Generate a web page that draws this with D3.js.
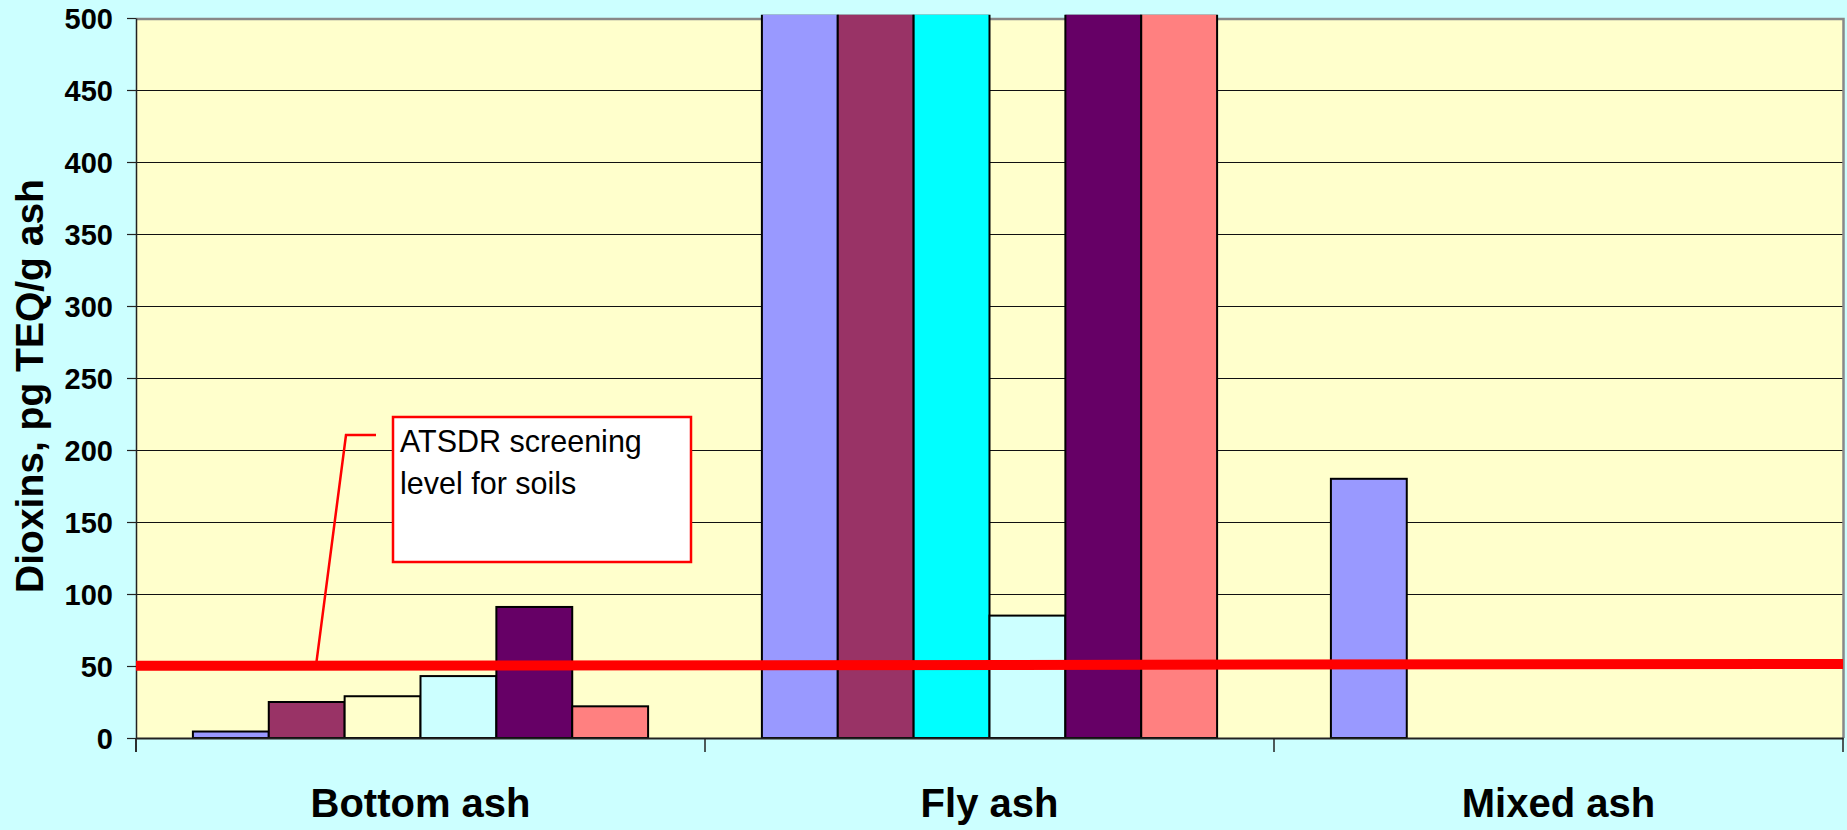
<!DOCTYPE html>
<html>
<head>
<meta charset="utf-8">
<script src="https://cdn.jsdelivr.net/npm/d3@7"></script>
<style>
  html, body { margin: 0; padding: 0; background: #CCFFFF; }
  svg { display: block; font-family: "Liberation Sans", Arial, sans-serif; }
</style>
</head>
<body>
<svg id="chart" width="1847" height="830"></svg>
<script>
// ---------------- data ----------------
const categories = ["Bottom ash", "Fly ash", "Mixed ash"];
const seriesIndex = [0, 1, 2, 3, 4, 5];
// values in pg TEQ/g ash; Fly ash bars run off the top of the 0–500 scale (visible top ≈ 503)
const bottomAsh = [4.5, 25, 29, 43, 91, 22];
const flyAsh    = [503, 503, 503, 85, 503, 503];
const mixedAsh  = [180, null, null, null, null, null];
const bottomAshColors = ["#9999FF", "#993366", "#FFFFCC", "#CCFFFF", "#660066", "#FF8080"];
const flyAshColors    = ["#9999FF", "#993366", "#00FFFF", "#CCFFFF", "#660066", "#FF8080"];
const mixedAshColors  = ["#9999FF", "#993366", "#FFFFCC", "#CCFFFF", "#660066", "#FF8080"];
const yTicks = [0, 50, 100, 150, 200, 250, 300, 350, 400, 450, 500];
const screeningLine = [50.1, 51.4]; // level at left and right edge of the plot
const yTitle = "Dioxins, pg TEQ/g ash";
const calloutText = ["ATSDR screening", "level for soils"];

const valuesByCategory = [bottomAsh, flyAsh, mixedAsh];
const colorsByCategory = [bottomAshColors, flyAshColors, mixedAshColors];

// ---------------- layout ----------------
const svg = d3.select("#chart");
const W = 1847, H = 830;
const plot = { left: 136, right: 1843, top: 18, bottom: 738 };

svg.append("rect").attr("width", W).attr("height", H).attr("fill", "#CCFFFF");

const x0 = d3.scaleBand().domain(categories).range([plot.left, plot.right]).padding(0);
const x1 = d3.scaleBand().domain(seriesIndex).range([0, x0.bandwidth()]).paddingInner(0).paddingOuter(0.75);
const y = d3.scaleLinear().domain([0, 500]).range([plot.bottom, plot.top]);

svg.append("defs").append("clipPath").attr("id", "barclip")
  .append("rect")
  .attr("x", plot.left).attr("y", plot.top - 3.2)
  .attr("width", plot.right - plot.left).attr("height", plot.bottom - plot.top + 10);

// plot area
svg.append("rect")
  .attr("x", plot.left).attr("y", plot.top)
  .attr("width", plot.right - plot.left).attr("height", plot.bottom - plot.top)
  .attr("fill", "#FFFFCC");

// gridlines
svg.append("g").selectAll("line")
  .data(yTicks.filter(t => t > 0 && t < 500))
  .join("line")
  .attr("x1", plot.left).attr("x2", plot.right)
  .attr("y1", d => Math.round(y(d)) + 0.5).attr("y2", d => Math.round(y(d)) + 0.5)
  .attr("stroke", "#111").attr("stroke-width", 1.2);

// plot border (top and right, grey)
svg.append("path")
  .attr("d", `M${plot.left},${plot.top + 1} H${plot.right + 0.5} V${plot.bottom}`)
  .attr("fill", "none").attr("stroke", "#888").attr("stroke-width", 2.5);

// bars
const data = [];
categories.forEach((c, ci) => {
  seriesIndex.forEach(si => {
    const v = valuesByCategory[ci][si];
    if (v !== null && v !== undefined) data.push({ c, si, v, color: colorsByCategory[ci][si] });
  });
});

svg.append("g").attr("clip-path", "url(#barclip)").selectAll("rect")
  .data(data)
  .join("rect")
  .attr("x", d => x0(d.c) + x1(d.si))
  .attr("y", d => y(d.v))
  .attr("width", x1.bandwidth())
  .attr("height", d => y(0) - y(d.v))
  .attr("fill", d => d.color)
  .attr("stroke", "#000")
  .attr("stroke-width", 2);

// y axis
const yAxis = svg.append("g")
  .attr("transform", `translate(${plot.left},0)`)
  .call(d3.axisLeft(y).tickValues(yTicks).tickSize(9).tickPadding(14).tickSizeOuter(0));
yAxis.select(".domain").attr("stroke", "#222").attr("stroke-width", 1.5);
yAxis.selectAll(".tick line").attr("stroke", "#222").attr("stroke-width", 1.2);
yAxis.selectAll(".tick text")
  .attr("font-family", "'Liberation Sans', Arial, sans-serif")
  .attr("font-size", 29).attr("font-weight", "bold").attr("fill", "#000")
  .attr("dy", "0.36em");
// extend the left axis below zero
svg.append("line")
  .attr("x1", plot.left).attr("x2", plot.left)
  .attr("y1", plot.bottom).attr("y2", plot.bottom + 14)
  .attr("stroke", "#222").attr("stroke-width", 1.5);

// x axis
const xAxis = svg.append("g")
  .attr("transform", `translate(0,${plot.bottom})`)
  .call(d3.axisBottom(x0).tickSize(0).tickPadding(51).tickSizeOuter(0));
xAxis.select(".domain").attr("stroke", "#222").attr("stroke-width", 2);
xAxis.selectAll(".tick text")
  .attr("font-family", "'Liberation Sans', Arial, sans-serif")
  .attr("font-size", 40).attr("font-weight", "bold").attr("fill", "#000");
// category boundary ticks
const boundaries = categories.map(c => x0(c)).concat([x0(categories[categories.length - 1]) + x0.bandwidth()]);
svg.append("g").selectAll("line")
  .data(boundaries)
  .join("line")
  .attr("x1", d => d).attr("x2", d => d)
  .attr("y1", plot.bottom).attr("y2", plot.bottom + 14)
  .attr("stroke", "#222").attr("stroke-width", 1.5);

// y title
svg.append("text")
  .attr("transform", `translate(43,${(plot.top + plot.bottom) / 2 + 8}) rotate(-90)`)
  .attr("text-anchor", "middle")
  .attr("font-size", 39).attr("font-weight", "bold").attr("fill", "#000")
  .text(yTitle);

// screening level line
svg.append("line")
  .attr("x1", plot.left).attr("x2", plot.right)
  .attr("y1", y(screeningLine[0])).attr("y2", y(screeningLine[1]))
  .attr("stroke", "#FF0000").attr("stroke-width", 10);

// callout
const levelAt = px => screeningLine[0] + (screeningLine[1] - screeningLine[0]) * (px - plot.left) / (plot.right - plot.left);
svg.append("polyline")
  .attr("points", `376,435 346,435 316,${y(levelAt(316))}`)
  .attr("fill", "none").attr("stroke", "#FF0000").attr("stroke-width", 2.5);
svg.append("rect")
  .attr("x", 393).attr("y", 417).attr("width", 298).attr("height", 145)
  .attr("fill", "#FFFFFF").attr("stroke", "#FF0000").attr("stroke-width", 2.5);
svg.append("text")
  .attr("x", 400).attr("y", 452)
  .attr("font-size", 30.5).attr("fill", "#000")
  .selectAll("tspan")
  .data(calloutText)
  .join("tspan")
  .attr("x", 400)
  .attr("dy", (d, i) => i === 0 ? 0 : 41.5)
  .text(d => d);
</script>
</body>
</html>
